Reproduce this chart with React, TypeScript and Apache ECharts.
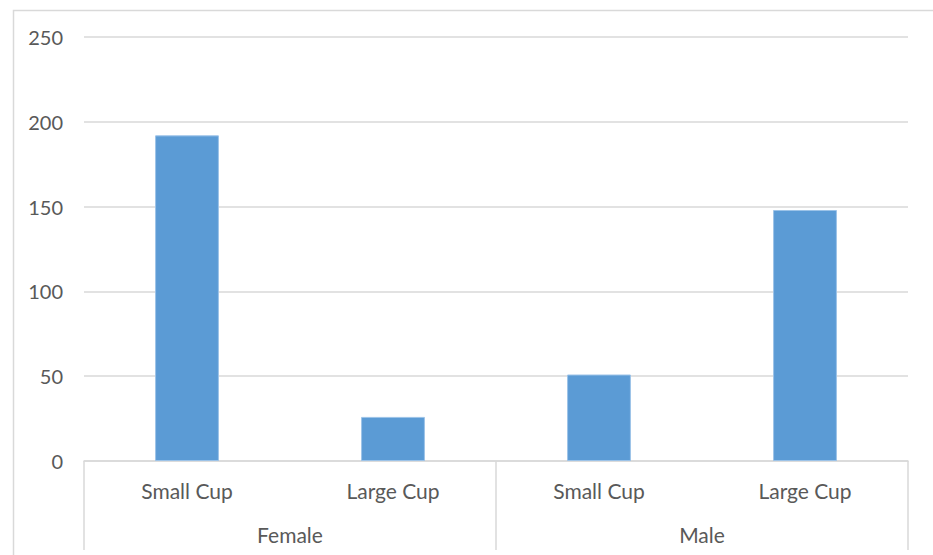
import React, { useEffect, useRef } from "react";
import * as echarts from "echarts";

const subCategories = ["Small Cup", "Large Cup", "Small Cup", "Large Cup"];
const groups = ["Female", "Male"];
const counts = [192, 26, 51, 148];
const yTicks = { min: 0, max: 250, interval: 50 };

export default function App() {
  const ref = useRef<HTMLDivElement>(null);
  useEffect(() => {
    if (!ref.current) return;
    const chart = echarts.init(ref.current, undefined, { renderer: "svg" });
    const textColor = "#595959";
    const lineColor = "#d9d9d9";
    const font = "Lato";
    chart.setOption({
      animation: false,
      backgroundColor: "#ffffff",
      grid: { left: 84, right: 25, top: 37, bottom: 94, containLabel: false },
      xAxis: [
        {
          type: "category",
          data: subCategories,
          position: "bottom",
          axisLine: { show: true, lineStyle: { color: lineColor, width: 1.5 } },
          axisTick: { show: false },
          axisLabel: {
            color: textColor,
            fontFamily: font,
            fontSize: 21,
            margin: 19,
            interval: 0,
          },
        },
        {
          type: "category",
          data: groups,
          position: "bottom",
          axisLine: { show: false },
          axisTick: {
            show: true,
            length: 89,
            interval: 0,
            lineStyle: { color: lineColor, width: 1.5 },
          },
          axisLabel: {
            color: textColor,
            fontFamily: font,
            fontSize: 21,
            margin: 63,
            interval: 0,
          },
        },
      ],
      yAxis: {
        type: "value",
        min: yTicks.min,
        max: yTicks.max,
        interval: yTicks.interval,
        axisLine: { show: false },
        axisTick: { show: false },
        splitLine: { lineStyle: { color: lineColor, width: 1.5 } },
        axisLabel: {
          color: textColor,
          fontFamily: font,
          fontSize: 20,
          margin: 21,
        },
      },
      graphic: [
        {
          type: "rect",
          left: 11,
          top: 8,
          shape: { width: 1000, height: 1000 },
          style: { fill: "none", stroke: lineColor, lineWidth: 1.5 },
          silent: true,
        },
      ],
      series: [
        {
          type: "bar",
          xAxisIndex: 0,
          data: counts,
          barWidth: "31%",
          itemStyle: {
            color: "#5b9bd5",
            borderColor: "#9cc3e8",
            borderWidth: 1,
          },
        },
      ],
    });
    return () => chart.dispose();
  }, []);
  return (
    <div
      ref={ref}
      style={{ position: "fixed", left: 0, top: 0, width: 933, height: 555 }}
    />
  );
}
